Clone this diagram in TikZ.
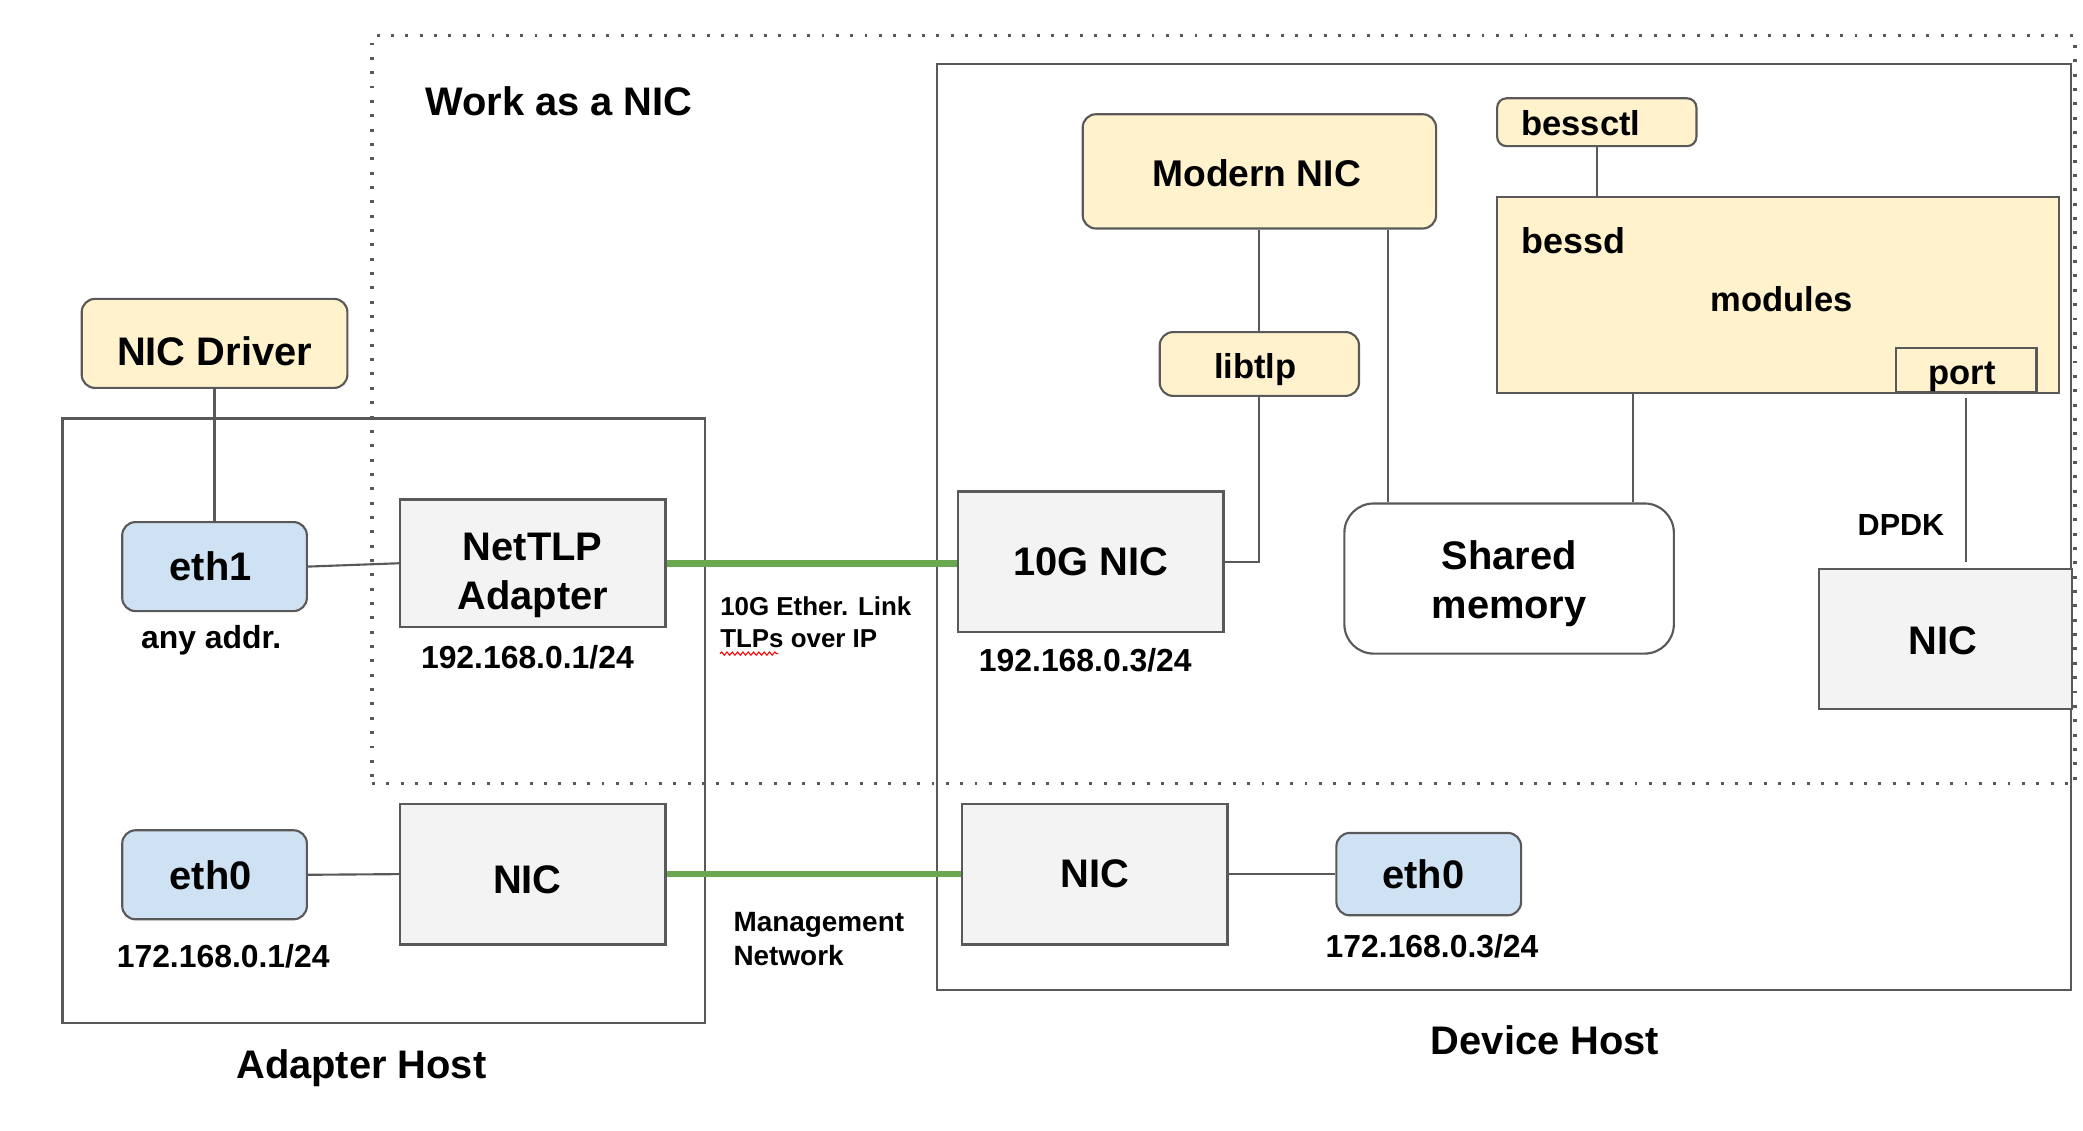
\documentclass[tikz,border=0pt]{standalone}
\usepackage{fontspec}
\setmainfont{Liberation Sans}
\usetikzlibrary{decorations.pathmorphing}
\definecolor{bord}{HTML}{595959}
\definecolor{yel}{HTML}{FFF2CC}
\definecolor{blu}{HTML}{CFE2F3}
\definecolor{gry}{HTML}{F3F3F3}
\definecolor{grn}{HTML}{6AA84F}
\newcommand\txtmv[3]{\kern#1\raisebox{-#2}[\height][\depth]{#3}\kern-#1\relax}
\begin{document}
\begin{tikzpicture}[x=1pt,y=-1pt,
  fs/.style={font=\fontsize{#1pt}{\dimexpr #1pt*12/10\relax}\selectfont\bfseries},
  box/.style={draw=bord, line width=1.6pt, inner sep=0pt, align=center, fs=30},
  ybox/.style={box, fill=yel, rounded corners=10pt},
  bbox/.style={box, fill=blu, rounded corners=10pt},
  gbox/.style={box, fill=gry},
  host/.style={draw=bord, line width=1.6pt, inner sep=0pt},
  conn/.style={draw=bord, line width=1.6pt},
  glink/.style={draw=grn, line width=5pt},
  lbl/.style={inner sep=0pt, align=center},
  dotbox/.style={draw=bord, line width=2.4pt, dash pattern=on 2.2pt off 8.6pt, inner sep=0pt},
]
\useasboundingbox (0,0) rectangle (1568,851);
% containers
\node[host, minimum width=484pt, minimum height=455pt] (ahost) at (289,542.5) {};
\node[host, minimum width=854pt, minimum height=697pt] (dhost) at (1132,396.5) {};
% left side
\node[ybox, minimum width=200pt, minimum height=67pt] (drv) at (161.5,258.5) {\txtmv{0pt}{6pt}{NIC Driver}};
\node[bbox, minimum width=139pt, minimum height=67pt] (eth1) at (161.5,426.5) {\txtmv{-3pt}{0pt}{eth1}};
\node[lbl, fs=24] (anyaddr) at (159,482) {any addr.};
\node[gbox, minimum width=200pt, minimum height=96pt, fs=30] (ntlp) at (401,424) {\txtmv{0pt}{9pt}{\begin{tabular}{@{}c@{}}NetTLP\\[1pt]Adapter\end{tabular}}};
\node[lbl, fs=24] (ipa) at (397,495) {192.168.0.1/24};
\node[bbox, minimum width=139pt, minimum height=67pt] (eth0a) at (161.5,658.5) {\txtmv{-3pt}{0pt}{eth0}};
\node[lbl, fs=24] (ipb) at (168,720) {172.168.0.1/24};
\node[gbox, minimum width=200pt, minimum height=106pt] (nica) at (401,658) {\txtmv{-4pt}{4pt}{NIC}};
% middle labels
\node[lbl, fs=19.5, anchor=west, align=left] (link) at (542,468.5) {10G Ether. Link\\[1pt]TLPs over IP};
\node[lbl, fs=21, anchor=west, align=left] (mgmt) at (552,707) {Management\\Network};
% device host
\node[gbox, minimum width=200pt, minimum height=106pt] (nic10) at (821,423) {10G NIC};
\node[lbl, fs=24] (ipc) at (817,497) {192.168.0.3/24};
\node[ybox, minimum width=266pt, minimum height=86pt, fs=28] (mnic) at (948,129) {\txtmv{-2pt}{1.5pt}{Modern NIC}};
\node[ybox, minimum width=150pt, minimum height=48pt, fs=26] (libtlp) at (948,274) {\txtmv{-3pt}{4pt}{libtlp}};
\node[box, fill=white, rounded corners=22pt, minimum width=248pt, minimum height=113pt] (shm) at (1136,435.5) {\txtmv{0pt}{4.5pt}{\begin{tabular}{@{}c@{}}Shared\\[1pt]memory\end{tabular}}};
\node[ybox, minimum width=150pt, minimum height=36pt, fs=26, rounded corners=7pt] (bessctl) at (1202,92) {\txtmv{-12pt}{1pt}{bessctl}};
\node[box, fill=yel, minimum width=423pt, minimum height=148pt] (bessd) at (1338.5,222) {};
\node[lbl, fs=27, anchor=west] (bessdl) at (1145,181) {bessd};
\node[lbl, fs=26] (modules) at (1341,225) {modules};
\node[box, fill=yel, minimum width=106pt, minimum height=33pt, fs=26] (port) at (1480,278.5) {\txtmv{-3pt}{5pt}{port}};
\node[lbl, fs=23] (dpdk) at (1431,395) {DPDK};
\node[gbox, minimum width=191pt, minimum height=106pt] (nicr) at (1464.5,481) {\txtmv{-2pt}{1pt}{NIC}};
\node[gbox, minimum width=200pt, minimum height=106pt] (nicb) at (824,658) {NIC};
\node[bbox, minimum width=139pt, minimum height=62pt] (eth0b) at (1075.5,658) {\txtmv{-4pt}{0pt}{eth0}};
\node[lbl, fs=24] (ipd) at (1078,712) {172.168.0.3/24};
% titles
\node[lbl, fs=30, anchor=west] (work) at (320,76) {Work as a NIC};
\node[lbl, fs=30] (ahl) at (272,804) {Adapter Host};
\node[lbl, fs=30] (dhl) at (1163,783) {Device Host};
% connectors
\coordinate (shx) at (1045,0);
\coordinate (bsx) at (1229,0);
\draw[conn] (drv.south) -- (eth1.north);
\draw[conn] (eth1.east) -- (ntlp.west);
\draw[glink] (ntlp.east) -- (nic10.west |- ntlp.east);
\draw[conn] (mnic.south) -- (libtlp.north);
\draw[conn] (libtlp.south) |- (nic10.east);
\draw[conn] (mnic.south -| shx) -- (shm.north -| shx);
\draw[conn] (bessctl.south) -- (bessctl.south |- bessd.north);
\draw[conn] (bessd.south -| bsx) -- (shm.north -| bsx);
\draw[conn] ([yshift=-4pt]port.south) -- ([yshift=4pt]port.south |- nicr.north);
\draw[conn] (eth0a.east) -- (nica.west);
\draw[glink] (nica.east) -- (nicb.west);
\draw[conn] (nicb.east) -- (eth0b.west);
% spell-check mark
\draw[red, line width=0.8pt, decorate, decoration={snake, amplitude=1.2pt, segment length=4pt}] (542,492) -- (586,492);
% dotted region
\node[dotbox, minimum width=1282pt, minimum height=563pt] (wnic) at (921,308.5) {};
\end{tikzpicture}
\end{document}
